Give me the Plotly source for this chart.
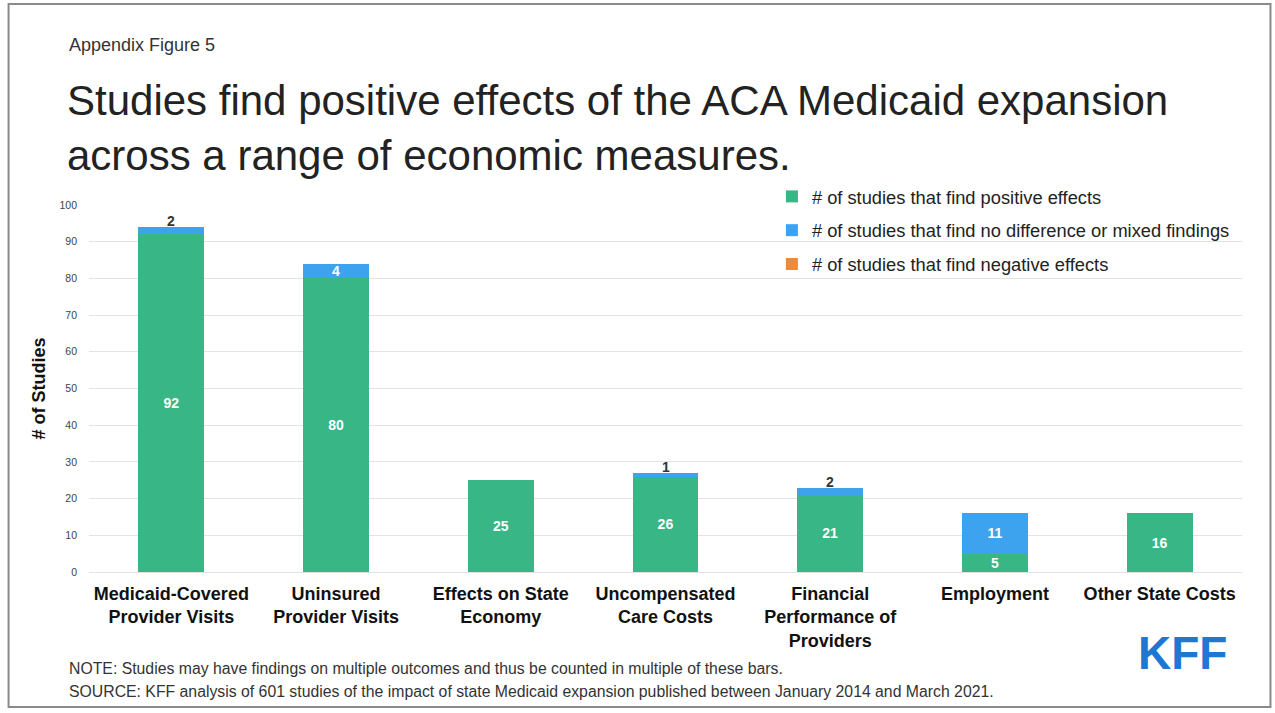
import plotly.graph_objects as go

categories = [
    "Medicaid-Covered<br>Provider Visits",
    "Uninsured<br>Provider Visits",
    "Effects on State<br>Economy",
    "Uncompensated<br>Care Costs",
    "Financial<br>Performance of<br>Providers",
    "Employment",
    "Other State Costs",
]
positive = [92, 80, 25, 26, 21, 5, 16]
mixed = [2, 4, 0, 1, 2, 11, 0]
negative = [0, 0, 0, 0, 0, 0, 0]

# label placement for the "mixed" values: inside (white) or above bar (dark)
mixed_inside = [False, True, False, False, False, True, False]

W, H = 1275, 713
L, R, T, B = 88.5, 32.5, 205, 141
PW, PH = W - L - R, H - T - B


def px(x):
    return (x - L) / PW


def py(y):
    return (H - B - y) / PH


GREEN = "#38B685"
BLUE = "#3DA3EE"
ORANGE = "#EF8A3A"
FONT = "Liberation Sans, Arial, sans-serif"

fig = go.Figure()
fig.add_trace(go.Bar(
    x=categories, y=positive, name="# of studies that find positive effects",
    legendgroup="pos",
    marker=dict(color=GREEN, line=dict(width=0)),
    text=[str(v) if v else "" for v in positive], textposition="inside",
    insidetextanchor="middle", textangle=0, constraintext="none",
    textfont=dict(color="white", size=14, family=FONT, weight="bold"),
))
fig.add_trace(go.Bar(
    x=categories, y=mixed, name="# of studies that find no difference or mixed findings",
    legendgroup="mix",
    marker=dict(color=BLUE, line=dict(width=0)),
    text=[str(v) if (v and ins) else "" for v, ins in zip(mixed, mixed_inside)],
    textposition="inside", insidetextanchor="middle", textangle=0, constraintext="none",
    textfont=dict(color="white", size=14, family=FONT, weight="bold"),
))
fig.add_trace(go.Bar(
    x=categories, y=negative, name="# of studies that find negative effects",
    legendgroup="neg",
    marker=dict(color=ORANGE, line=dict(width=0)),
))

annotations = []
for c, p, m, ins in zip(categories, positive, mixed, mixed_inside):
    if m and not ins:
        annotations.append(dict(
            x=c, y=p + m, xref="x", yref="y", text=str(m), showarrow=False,
            yanchor="bottom", yshift=-4,
            font=dict(size=14, color="#333333", family=FONT, weight="bold"),
        ))

annotations += [
    dict(x=px(66), y=py(45), xref="paper", yref="paper", text="Appendix Figure 5",
         showarrow=False, xanchor="left", yanchor="middle",
         font=dict(size=18, color="#333333", family=FONT)),
    dict(x=px(64), y=py(100), xref="paper", yref="paper",
         text="Studies find positive effects of the ACA Medicaid expansion",
         showarrow=False, xanchor="left", yanchor="middle",
         font=dict(size=42, color="#222222", family=FONT)),
    dict(x=px(64), y=py(155), xref="paper", yref="paper",
         text="across a range of economic measures.",
         showarrow=False, xanchor="left", yanchor="middle",
         font=dict(size=42, color="#222222", family=FONT)),
    dict(x=px(66), y=py(668), xref="paper", yref="paper",
         text="NOTE: Studies may have findings on multiple outcomes and thus be counted in multiple of these bars.",
         showarrow=False, xanchor="left", yanchor="middle",
         font=dict(size=15.8, color="#333333", family=FONT)),
    dict(x=px(66), y=py(691), xref="paper", yref="paper",
         text="SOURCE: KFF analysis of 601 studies of the impact of state Medicaid expansion published between January 2014 and March 2021.",
         showarrow=False, xanchor="left", yanchor="middle",
         font=dict(size=15.8, color="#333333", family=FONT)),
    dict(x=px(1183), y=py(653), xref="paper", yref="paper", text="KFF",
         showarrow=False, xanchor="center", yanchor="middle",
         font=dict(size=46, color="#1E78D2", family=FONT, weight="bold")),
]

fig.update_layout(
    width=W, height=H,
    margin=dict(l=L, r=R, t=T, b=B, autoexpand=False),
    paper_bgcolor="white", plot_bgcolor="white",
    barmode="stack", bargap=0.6,
    font=dict(family=FONT, color="#222222"),
    showlegend=True,
    legend=dict(
        x=px(772), y=py(178), xanchor="left", yanchor="top",
        bgcolor="rgba(0,0,0,0)", traceorder="grouped",
        font=dict(size=18.3, color="#222222", family=FONT),
        itemwidth=30, tracegroupgap=7,
    ),
    xaxis=dict(
        tickfont=dict(size=18, color="#111111", family=FONT, weight="bold"),
        showgrid=False, showline=False, ticks="", ticklabelstandoff=9,
    ),
    yaxis=dict(
        range=[0, 100], dtick=10, showgrid=True, gridcolor="#E3E3E3", gridwidth=1,
        zeroline=True, zerolinecolor="#E3E3E3", zerolinewidth=1,
        tickfont=dict(size=10.5, color="#444444", family=FONT),
        ticklabelstandoff=11,
        title=dict(text="# of Studies", standoff=9,
                   font=dict(size=18, color="#111111", family=FONT, weight="bold")),
    ),
    annotations=annotations,
    shapes=[dict(type="rect", xref="paper", yref="paper",
                 x0=px(8), x1=px(1271), y0=py(4), y1=py(707),
                 line=dict(color="#8A8A8A", width=2), layer="below")],
    uniformtext=dict(minsize=8, mode="show"),
)

fig.write_html("out.html", config={"displayModeBar": False},
               post_script="document.body.style.margin='0';")
